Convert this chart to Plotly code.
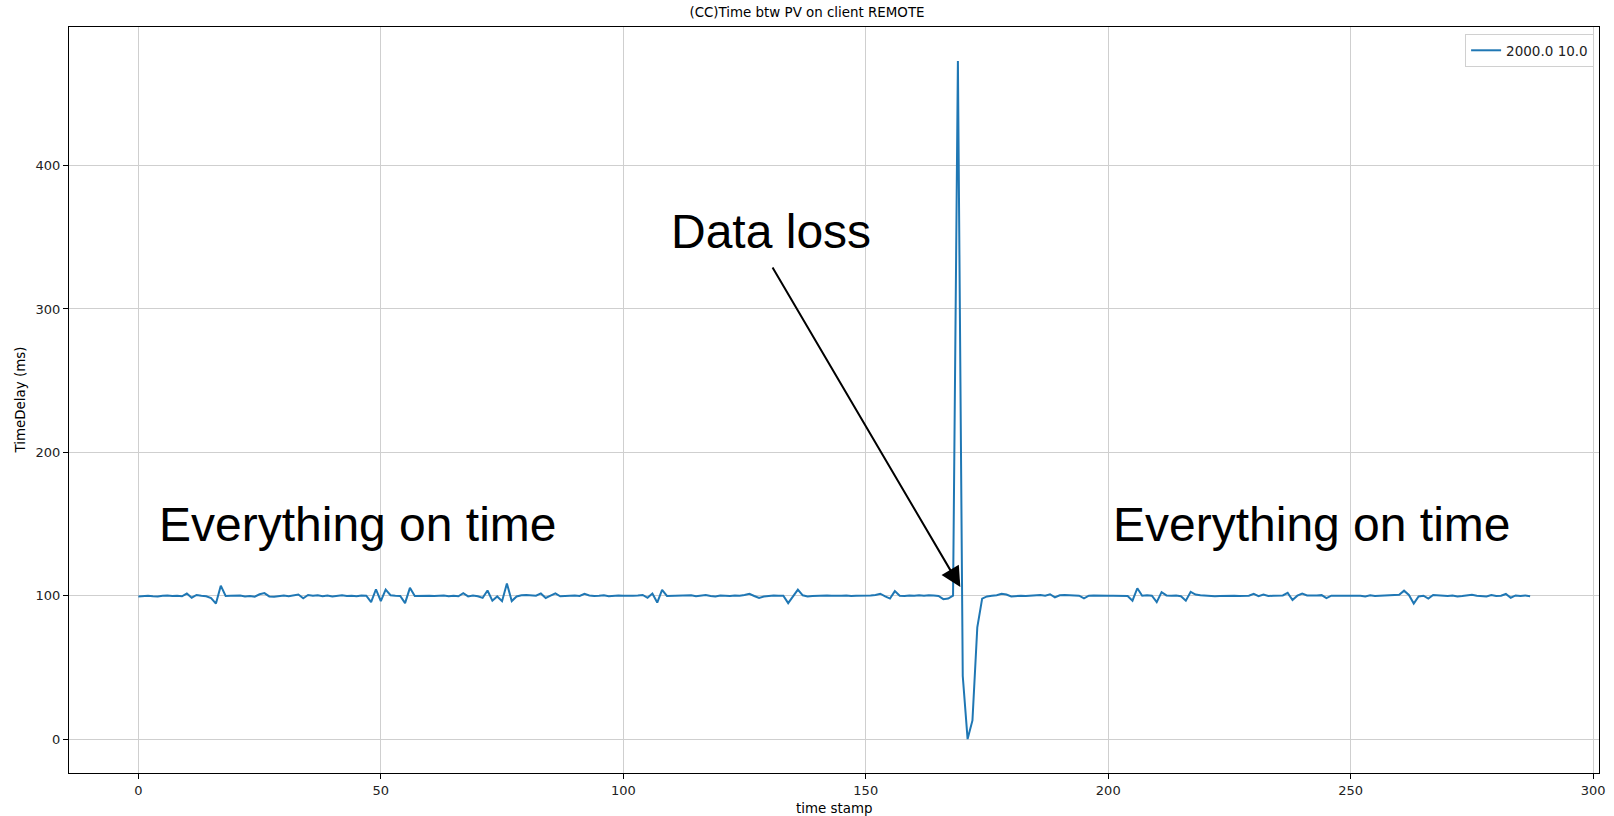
import plotly.graph_objects as go

delay_ms = [
    99.5, 100, 100, 99.7, 99.5, 100, 100.2, 99.8, 100, 99.6,
    101.5, 98.6, 100.5, 100, 99.6, 98.4, 94.5, 107, 99.8, 100,
    100, 100.2, 99.5, 99.8, 99.3, 101, 101.8, 99.5, 99.2, 99.8,
    100.2, 99.7, 100, 100.8, 98.2, 100.5, 100, 100.3, 99.7, 100.2,
    99.5, 100, 100.3, 99.8, 100, 99.6, 100.2, 100, 95.5, 104.5,
    96.2, 104.2, 100.3, 100, 99.8, 94.8, 105.5, 99.8, 100, 100.2,
    100, 99.8, 100, 100.2, 99.7, 100, 99.6, 101.7, 99.5, 100.2,
    99.6, 98.5, 103.6, 96.5, 99.5, 96.2, 108.5, 96.3, 99.5, 100.3,
    100.5, 100.2, 100, 101.6, 98.4, 100, 101.6, 99.6, 99.8, 100,
    100.2, 99.8, 101.3, 100.2, 99.8, 100, 100.3, 99.6, 100, 100.2,
    100, 99.8, 100, 100.2, 100.5, 98.5, 101.5, 95.2, 104, 99.8,
    100, 99.8, 100, 100.2, 100.3, 99.7, 100, 100.5, 99.8, 99.5,
    100.2, 100, 99.8, 100.2, 100, 100.5, 101.3, 99.8, 98.5, 99.5,
    100, 100.2, 100, 100, 94.8, 99.8, 104.3, 100.3, 99.5, 99.8,
    100, 100, 100.2, 100, 99.8, 100, 100.2, 99.8, 100, 100,
    99.8, 100.2, 100.5, 101.4, 99.6, 98, 103.2, 100, 99.8, 100.2,
    100, 100.3, 100, 100.4, 100.2, 99.8, 97.6, 98, 100, 473,
    44, 0, 13, 78, 98, 99.5, 100, 100.3, 101.3, 100.8,
    99.5, 99.8, 100, 99.8, 100, 100.2, 100.5, 100, 101, 98.8,
    100.3, 100.5, 100.3, 99.8, 100, 98.2, 100, 100.2, 100, 100,
    100, 100, 100, 100, 99.8, 96.5, 105.2, 100, 100.3, 100,
    95.5, 102.5, 100.2, 100, 100.2, 99.6, 96.5, 102.7, 100.8, 100.3,
    100, 99.8, 99.7, 99.8, 100, 100, 100, 99.8, 100, 100,
    101.3, 99.7, 100.8, 99.8, 100, 100.3, 100.2, 102, 97, 100,
    101.5, 100.2, 100, 100.2, 100.4, 98.3, 100, 100, 99.8, 100,
    100.2, 100, 100, 99.5, 100.3, 99.8, 100, 100, 100.2, 100.3,
    100.6, 103.5, 100.5, 94.5, 99.5, 100, 98, 100.5, 100.3, 100,
    99.8, 100.2, 99.5, 99.8, 100, 100.6, 100, 99.8, 99.5, 100.5,
    99.8, 100, 101.2, 98.6, 100.2, 99.8, 100.2, 99.7,
]
time_stamp = list(range(len(delay_ms)))

x_ticks = [0, 50, 100, 150, 200, 250, 300]
y_ticks = [0, 100, 200, 300, 400]

fig = go.Figure()
fig.add_trace(go.Scatter(
    x=time_stamp, y=delay_ms, mode="lines", name="2000.0 10.0",
    line=dict(color="#1f77b4", width=2),
))

big_font = dict(family="Liberation Sans, Arial, sans-serif", size=48, color="black")
fig.add_annotation(x=130.4, y=354, text="Data loss", showarrow=False,
                   xanchor="center", yanchor="middle", font=big_font)
fig.add_annotation(x=3.8, y=150, text="Everything on time", showarrow=False,
                   xanchor="left", yanchor="middle", font=big_font)
fig.add_annotation(x=200.5, y=150, text="Everything on time", showarrow=False,
                   xanchor="left", yanchor="middle", font=big_font)
fig.add_annotation(x=169.5, y=106, ax=130.6, ay=330, axref="x", ayref="y",
                   xref="x", yref="y", text="", showarrow=True,
                   arrowhead=2, arrowsize=2, arrowwidth=2, arrowcolor="black")

label_font = dict(family="DejaVu Sans", size=13.4, color="black")
fig.add_annotation(x=0.5, y=-(809.3 - 773.5) / 746.5, xref="paper", yref="paper",
                   text="time stamp", showarrow=False, xanchor="center",
                   yanchor="middle", font=label_font)
fig.add_annotation(x=-(69 - 19.5) / 1530.5, y=0.5, xref="paper", yref="paper",
                   text="TimeDelay (ms)", showarrow=False, textangle=-90,
                   xanchor="center", yanchor="middle", font=label_font)

axis_common = dict(
    showline=True, linecolor="black", linewidth=1, mirror=True,
    showgrid=True, gridcolor="#cfcfcf", gridwidth=1,
    ticks="outside", ticklen=5, tickcolor="black",
    tickfont=dict(family="DejaVu Sans", size=13, color="#222"),
    zeroline=False, automargin=False,
)

fig.update_layout(
    width=1614, height=816,
    margin=dict(l=69, r=14.5, t=27, b=42.5),
    paper_bgcolor="white", plot_bgcolor="white",
    title=dict(text="(CC)Time btw PV on client REMOTE", x=0.5, xanchor="center",
               y=0.985, yanchor="middle",
               font=dict(family="DejaVu Sans", size=13.4, color="black")),
    xaxis=dict(range=[-14.3, 301.2], tickvals=x_ticks, **axis_common),
    yaxis=dict(range=[-23.65, 496.65], tickvals=y_ticks, **axis_common),
    showlegend=True,
    legend=dict(x=0.9968, y=0.9906, xanchor="right", yanchor="top",
                bgcolor="white", bordercolor="#d0d0d0", borderwidth=1,
                font=dict(family="DejaVu Sans", size=13.5, color="#222")),
)

fig.write_html("out.html")
